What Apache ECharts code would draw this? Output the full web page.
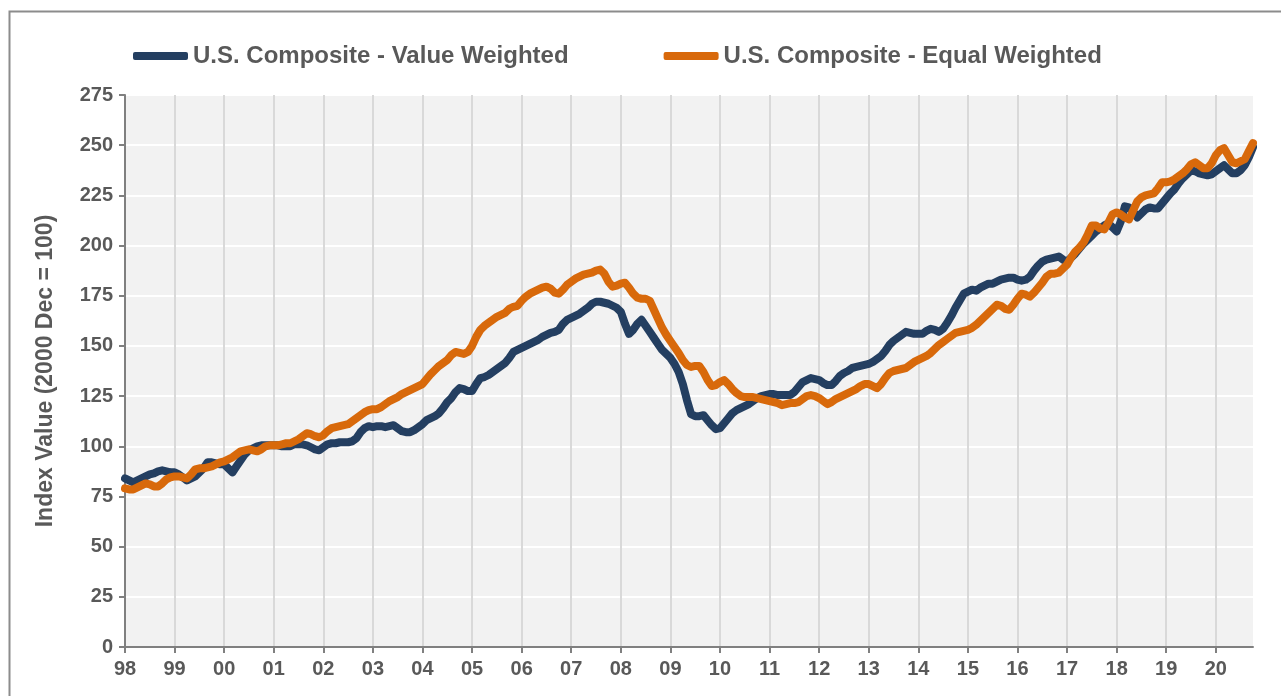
<!DOCTYPE html>
<html>
<head>
<meta charset="utf-8">
<script src="https://cdn.jsdelivr.net/npm/echarts@6/dist/echarts.min.js"></script>
<style>
  html, body { margin: 0; padding: 0; background: #fff; overflow: hidden; }
  #main { width: 1281px; height: 696px; }
</style>
</head>
<body>
<div id="main"></div>
<script>
// tick labels, one per January
var yearLabels = ['98','99','00','01','02','03','04','05','06','07','08','09',
                  '10','11','12','13','14','15','16','17','18','19','20'];
var monthsInLast = 10; // data runs Jan 1998 .. Oct 2020

// U.S. Composite - Value Weighted (monthly)
var valueWeighted = [
  84, 83, 82, 83, 84, 85, 86, 86.5, 87.5, 88, 87.5, 87,                       // 98
  87, 86, 84.5, 83, 84, 85, 87, 89, 92, 92, 91.5, 91,                          // 99
  91, 89, 87, 90, 93, 96, 98, 99, 100, 100.5, 100.5, 100.5,                    // 00
  100.5, 100.5, 100, 100, 100, 101, 101, 101, 100.5, 99.5, 98.5, 98,           // 01
  99.5, 101, 101.5, 101.5, 102, 102, 102, 102.5, 104, 107, 109, 110,           // 02
  109.5, 110, 110, 109.5, 110, 110.5, 109, 107.5, 107, 107, 108, 109.5,        // 03
  111, 113, 114, 115, 116.5, 119, 122, 124, 127, 129, 128.5, 127.5,            // 04
  127.5, 131, 134, 134.5, 135.5, 137, 138.5, 140, 141.5, 144, 147, 148,        // 05
  149, 150, 151, 152, 153, 154.5, 155.5, 156.5, 157, 158, 161, 163,            // 06
  164, 165, 166, 167.5, 169, 171, 172, 172, 171.5, 171, 170, 169,              // 07
  167, 161, 156, 158, 161, 163, 160, 157, 154, 151, 148, 146,                  // 08
  144, 141, 137, 131, 123, 116, 115, 115, 115.5, 113, 110.5, 108.5,            // 09
  109, 111.5, 114, 116.5, 118, 119, 120, 121, 122.5, 124, 125, 125.5,          // 10
  126, 126, 125.5, 125.5, 125.5, 125.5, 127, 129.5, 132, 133, 134, 133.5,      // 11
  133, 131.5, 130.5, 130.5, 132.5, 135, 136.5, 137.5, 139, 139.5, 140, 140.5,  // 12
  141, 142, 143.5, 145, 147.5, 150.5, 152.5, 154, 155.5, 157, 156.5, 156,      // 13
  156, 156, 157.5, 158.5, 158, 157, 158.5, 161.5, 165, 169, 172.5, 176,        // 14
  177, 178, 177.5, 179, 180, 181, 181, 182, 183, 183.5, 184, 184,              // 15
  183, 182.5, 183, 184.5, 187.5, 190, 192, 193, 193.5, 194, 194.5, 193,        // 16
  192, 194, 196, 198.5, 201, 203, 205, 207, 208.5, 210, 211, 209,              // 17
  207, 212, 219.5, 219, 217, 214, 216, 218, 219, 218.5, 218.5, 221,            // 18
  223.5, 226, 228, 231, 233.5, 235.5, 237.5, 237, 236, 235.5, 235, 235.5,      // 19
  237, 238.5, 240, 238, 236, 236, 237.5, 240, 244, 249                         // 20
];

// U.S. Composite - Equal Weighted (monthly)
var equalWeighted = [
  79, 78.5, 78.5, 79.5, 80.5, 81.5, 81, 80, 80, 81.5, 83.5, 84.5,              // 98
  85, 85, 84.5, 84, 86, 88.5, 89, 89, 89.5, 90, 91, 92,                        // 99
  92.5, 93.5, 94.5, 96, 97.5, 98, 98.5, 98, 97.5, 98.5, 100, 100.5,            // 00
  100.5, 100.5, 101, 101.5, 101.5, 102.5, 103.5, 105, 106.5, 106, 105, 104.5,  // 01
  105.5, 107.5, 109, 109.5, 110, 110.5, 111, 112.5, 114, 115.5, 117, 118,      // 02
  118.5, 118.5, 119.5, 121, 122.5, 123.5, 124.5, 126, 127, 128, 129, 130,      // 03
  131, 133.5, 136, 138, 140, 141.5, 143, 145.5, 147, 146.5, 146, 147,          // 04
  150, 154.5, 158, 160, 161.5, 163, 164.5, 165.5, 166.5, 168.5, 169.5, 170,    // 05
  172.5, 174.5, 176, 177, 178, 179, 179.5, 178.5, 176.5, 176, 178, 180.5,      // 06
  182, 183.5, 184.5, 185.5, 186, 186.5, 187.5, 188, 186, 182, 179.5, 180,      // 07
  181, 181.5, 179, 176, 174, 173.5, 173.5, 172.5, 168, 163.5, 159, 155.5,      // 08
  152.5, 149.5, 146.5, 143, 140.5, 139.5, 140, 140, 137, 133, 130, 130.5,      // 09
  132, 133, 131, 128.5, 126.5, 125, 124.5, 124.5, 124.5, 124, 123.5, 123,      // 10
  122.5, 122, 121.5, 120.5, 121, 121.5, 121.5, 122, 123.5, 125, 125.5, 125,    // 11
  124, 122.5, 121, 122, 123.5, 124.5, 125.5, 126.5, 127.5, 128.5, 130, 131,    // 12
  131, 130, 129, 131, 134, 136.5, 137.5, 138, 138.5, 139, 140.5, 142,          // 13
  143, 144, 145, 146.5, 148.5, 150.5, 152, 153.5, 155, 156.5, 157, 157.5,      // 14
  158, 159, 160.5, 162.5, 164.5, 166.5, 168.5, 170.5, 170, 168.5, 168, 170.5,  // 15
  173.5, 176, 175.5, 174.5, 176.5, 179, 181.5, 184.5, 186, 186, 186.5, 188.5,  // 16
  190.5, 194, 197, 199, 201.5, 205.5, 210, 210, 208.5, 208, 211.5, 215.5,      // 17
  216.5, 215.5, 214, 213, 217.5, 222, 224, 225, 225.5, 226, 228.5, 231.5,      // 18
  231.5, 232, 233, 234.5, 236, 238, 240.5, 241.5, 240, 238.5, 238.5, 241,      // 19
  245, 247.5, 248.5, 245, 241.5, 241, 242, 243, 247, 251                       // 20
];

var categories = [];
for (var y = 0; y < yearLabels.length; y++) {
  var n = (y === yearLabels.length - 1) ? monthsInLast : 12;
  for (var m = 0; m < n; m++) {
    categories.push(yearLabels[y] + '-' + (m + 1));
  }
}

var textColor = '#595959';
var fontFam = 'Arial, "Liberation Sans", sans-serif';
function isJan(index) { return index % 12 === 0; }

var myChart = echarts.init(document.getElementById('main'));
var option = {
  backgroundColor: '#ffffff',
  animation: false,
  graphic: [{
    type: 'rect',
    left: 7, top: 9,
    shape: { width: 1300, height: 720 },
    style: { fill: 'none', stroke: '#8c8c8c', lineWidth: 2 },
    silent: true
  }],
  legend: {
    left: 133,
    top: 44,
    padding: 0,
    itemWidth: 55,
    itemHeight: 8,
    itemGap: 95,
    icon: 'roundRect',
    textStyle: { color: textColor, fontSize: 24, fontWeight: 'bold', fontFamily: fontFam },
    data: ['U.S. Composite - Value Weighted', 'U.S. Composite - Equal Weighted']
  },
  grid: {
    left: 125, right: 28, top: 95, bottom: 49,
    show: true, backgroundColor: '#f2f2f2', borderWidth: 0
  },
  xAxis: {
    type: 'category',
    boundaryGap: false,
    data: categories,
    axisLine: { lineStyle: { color: '#808080', width: 2 } },
    axisTick: { interval: isJan, length: 6, lineStyle: { color: '#808080', width: 2 } },
    axisLabel: {
      interval: isJan,
      margin: 12,
      color: textColor, fontSize: 20, fontWeight: 'bold', fontFamily: fontFam,
      formatter: function (v) { return v.split('-')[0]; }
    },
    splitLine: { show: true, interval: isJan, lineStyle: { color: '#d9d9d9', width: 2 } }
  },
  yAxis: {
    type: 'value',
    min: 0, max: 275, interval: 25,
    name: 'Index Value (2000 Dec = 100)',
    nameLocation: 'middle',
    nameGap: 68,
    nameRotate: 90,
    nameTextStyle: { color: textColor, fontSize: 23, fontWeight: 'bold', fontFamily: fontFam },
    axisLine: { show: true, lineStyle: { color: '#808080', width: 2 } },
    axisTick: { show: true, length: 6, lineStyle: { color: '#808080', width: 2 } },
    axisLabel: { margin: 12, color: textColor, fontSize: 20, fontWeight: 'bold', fontFamily: fontFam },
    splitLine: { show: true, lineStyle: { color: '#ffffff', width: 2 } }
  },
  series: [{
    name: 'U.S. Composite - Value Weighted',
    type: 'line',
    data: valueWeighted,
    showSymbol: false,
    color: '#243f61',
    lineStyle: { width: 8, color: '#243f61', cap: 'round', join: 'round' }
  }, {
    name: 'U.S. Composite - Equal Weighted',
    type: 'line',
    data: equalWeighted,
    showSymbol: false,
    color: '#d8690b',
    lineStyle: { width: 8, color: '#d8690b', cap: 'round', join: 'round' }
  }]
};
myChart.setOption(option);
</script>
</body>
</html>
